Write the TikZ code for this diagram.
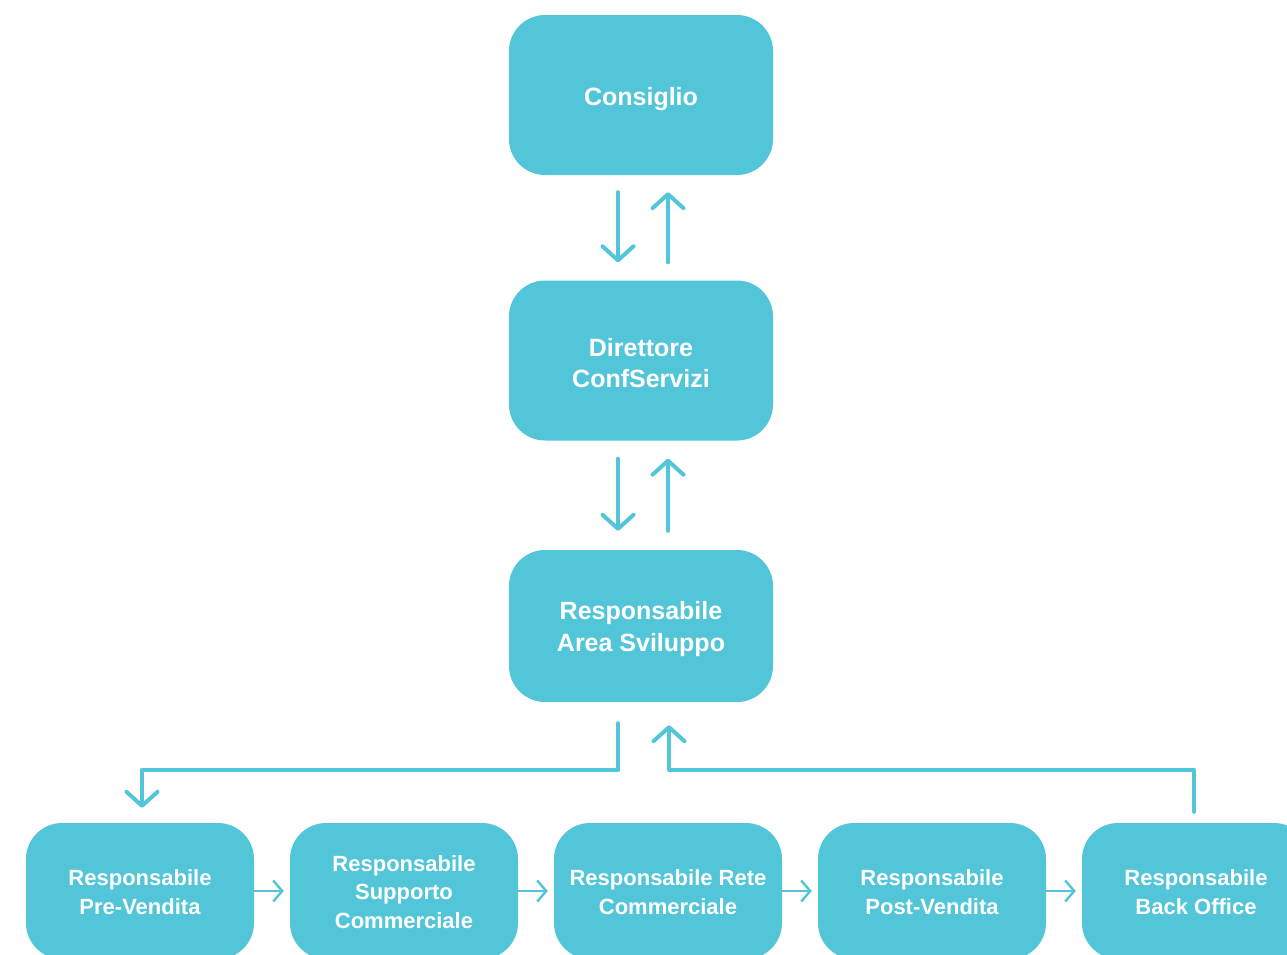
\documentclass[tikz,border=0pt]{standalone}
\usepackage{fontspec}
\setmainfont{Liberation Sans}
\usetikzlibrary{arrows.meta}
\definecolor{teal}{HTML}{52C6D8}
\tikzset{
  boxshape/.style={rectangle, rounded corners=36pt, fill=teal, inner sep=0pt},
  bigbox/.style={boxshape, minimum width=264pt, minimum height=160pt},
  smallbox/.style={boxshape, minimum width=228pt, minimum height=136pt},
  bigtext/.style={text=white, align=center, inner sep=0pt,
    font=\bfseries\fontsize{25}{31.2}\selectfont},
  smalltext/.style={text=white, align=center, inner sep=0pt,
    font=\bfseries\fontsize{22}{28.8}\selectfont},
  bigarrow/.style={draw=teal, line width=4pt, line cap=round, line join=round,
    -{Straight Barb[length=14pt,width=31pt,round]}},
  smallarrow/.style={draw=teal, line width=2.4pt,
    -{Straight Barb[length=9pt,width=21pt]}}
}
\begin{document}
\begin{tikzpicture}[x=1pt,y=-1pt]
\useasboundingbox (0,0) rectangle (1287,954);
\clip (0,0) rectangle (1287,954);

% upper chain
\node[bigbox] (cons) at (641,95) {};
\node[bigbox] (dir) at (641,360.5) {};
\node[bigbox, minimum height=152pt] (area) at (641,626) {};
\node[bigtext] (cons-t) at ([yshift=-4pt]cons.center) {Consiglio};
\node[bigtext] (dir-t) at ([yshift=-2.5pt]dir.center) {Direttore\\ConfServizi};
\node[bigtext] (area-t) at ([yshift=-3pt]area.center) {Responsabile\\Area Sviluppo};

% lower row
\node[smallbox] (pre)  at (140,891) {};
\node[smallbox] (sup)  at (404,891) {};
\node[smallbox] (rete) at (668,891) {};
\node[smallbox] (post) at (932,891) {};
\node[smallbox] (back) at (1196,891) {};
\node[smalltext] (pre-t)  at ([yshift=-1.5pt]pre.center)  {Responsabile\\Pre-Vendita};
\node[smalltext] (sup-t)  at ([yshift=-1pt]sup.center)    {Responsabile\\Supporto\\Commerciale};
\node[smalltext] (rete-t) at ([yshift=-1.5pt]rete.center) {Responsabile Rete\\Commerciale};
\node[smalltext] (post-t) at ([yshift=-1.5pt]post.center) {Responsabile\\Post-Vendita};
\node[smalltext] (back-t) at ([yshift=-1.5pt]back.center) {Responsabile\\Back Office};

% two-way links between the upper boxes
\draw[bigarrow] ([xshift=-23pt,yshift=-17pt]cons.south) -- ([xshift=-23pt,yshift=18pt]dir.north);
\draw[bigarrow] ([xshift=27pt,yshift=18pt]dir.north) -- ([xshift=27pt,yshift=-17pt]cons.south);
\draw[bigarrow] ([xshift=-23pt,yshift=-18pt]dir.south) -- ([xshift=-23pt,yshift=19pt]area.north);
\draw[bigarrow] ([xshift=27pt,yshift=19pt]area.north) -- ([xshift=27pt,yshift=-18pt]dir.south);

% loop through the lower row
\draw[bigarrow] ([xshift=-23pt,yshift=-21pt]area.south) |- ([xshift=2pt,yshift=53pt]pre.north) -- ([xshift=2pt,yshift=15pt]pre.north);
\draw[bigarrow] ([xshift=-2pt,yshift=11pt]back.north) -- ++(0,-42) -| ([xshift=28pt,yshift=-23pt]area.south);

\draw[smallarrow] (pre.east) -- ([xshift=-6pt]sup.west);
\draw[smallarrow] (sup.east) -- ([xshift=-6pt]rete.west);
\draw[smallarrow] (rete.east) -- ([xshift=-6pt]post.west);
\draw[smallarrow] (post.east) -- ([xshift=-6pt]back.west);
\end{tikzpicture}
\end{document}
